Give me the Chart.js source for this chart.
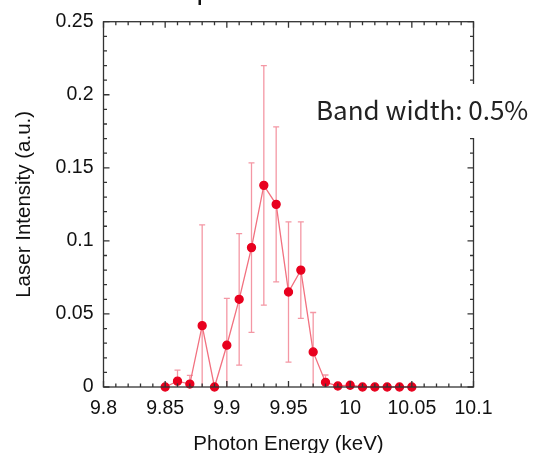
<!DOCTYPE html>
<html>
<head>
<meta charset="utf-8">
<script src="https://cdn.jsdelivr.net/npm/chart.js@4.4.0/dist/chart.umd.min.js"></script>
<style>
  html, body { margin: 0; padding: 0; background: #fff; }
  #wrap { width: 540px; height: 453px; position: relative; }
</style>
</head>
<body>
<div id="wrap"><canvas id="grafico"></canvas></div>
<script>
// ---------------- DADOS ----------------
const energia = [9.85, 9.86, 9.87, 9.88, 9.89, 9.90, 9.91, 9.92, 9.93, 9.94, 9.95,
                 9.96, 9.97, 9.98, 9.99, 10.00, 10.01, 10.02, 10.03, 10.04, 10.05];
const intensidade = [0, 0.004, 0.002, 0.042, 0, 0.0286, 0.060, 0.0954, 0.138, 0.125, 0.065,
                     0.080, 0.024, 0.0032, 0.0007, 0.0012, 0, 0, 0, 0, 0];
// barra de erro (+/-), null = sem barra
const erro = [null, 0.0076, 0.006, 0.069, null, 0.032, 0.045, 0.058, 0.082, 0.053, 0.048,
              0.033, 0.027, 0.005, null, null, null, null, null, null, null];

const xTicks = [9.8, 9.85, 9.9, 9.95, 10, 10.05, 10.1];
const yTicks = [0, 0.05, 0.1, 0.15, 0.2, 0.25];
const anotacao = "Band width: 0.5%";

const fonte = "'Liberation Sans', Arial, Helvetica, sans-serif";

// ---------------- PLUGINS ----------------
// barras de erro
const barrasErro = {
  id: "barrasErro",
  beforeDatasetsDraw(chart) {
    const { ctx, chartArea, scales: { x, y } } = chart;
    ctx.save();
    ctx.beginPath();
    ctx.rect(chartArea.left, chartArea.top, chartArea.right - chartArea.left, chartArea.bottom - chartArea.top);
    ctx.clip();
    ctx.strokeStyle = "#f497a4";
    ctx.lineWidth = 1.3;
    energia.forEach((e, i) => {
      if (erro[i] == null) return;
      const px = x.getPixelForValue(e);
      const topo = y.getPixelForValue(intensidade[i] + erro[i]);
      const base = y.getPixelForValue(intensidade[i] - erro[i]);
      ctx.beginPath();
      ctx.moveTo(px, topo); ctx.lineTo(px, base);
      ctx.moveTo(px - 3, topo); ctx.lineTo(px + 3, topo);
      ctx.moveTo(px - 3, base); ctx.lineTo(px + 3, base);
      ctx.stroke();
    });
    ctx.restore();
  }
};

// caixa com ticks para dentro
const caixa = {
  id: "caixa",
  afterDraw(chart) {
    const { ctx, chartArea: a, scales: { x, y } } = chart;
    ctx.save();
    ctx.strokeStyle = "#333";
    ctx.lineWidth = 1.3;
    ctx.strokeRect(a.left, a.top, a.right - a.left, a.bottom - a.top);
    ctx.beginPath();
    for (let k = 0; k <= 30; k++) {
      const px = x.getPixelForValue(9.8 + k * 0.01);
      const len = k % 5 === 0 ? 6 : 3.5;
      ctx.moveTo(px, a.bottom); ctx.lineTo(px, a.bottom - len);
      ctx.moveTo(px, a.top); ctx.lineTo(px, a.top + len);
    }
    for (let k = 0; k <= 25; k++) {
      const py = y.getPixelForValue(k * 0.01);
      const len = k % 5 === 0 ? 6 : 3.5;
      ctx.moveTo(a.left, py); ctx.lineTo(a.left + len, py);
      ctx.moveTo(a.right, py); ctx.lineTo(a.right - len, py);
    }
    ctx.stroke();

    // pedaço do título cortado no topo
    ctx.fillStyle = "#111";
    ctx.fillRect(198.5, 0, 2.5, 5);

    // anotação com fundo branco
    ctx.fillStyle = "#fff";
    ctx.fillRect(308, 84, 232, 54);
    ctx.fillStyle = "#222";
    ctx.font = "26px 'Noto Sans CJK JP', 'Noto Sans', sans-serif";
    ctx.textBaseline = "alphabetic";
    ctx.fillText(anotacao, 316, 120);
    ctx.restore();
  }
};

// ---------------- GRAFICO ----------------
const ctxGrafico = document.getElementById("grafico").getContext("2d");
new Chart(ctxGrafico, {
  type: "line",
  data: {
    datasets: [{
      data: energia.map((e, i) => ({ x: e, y: intensidade[i] })),
      borderColor: "#f2707f",
      borderWidth: 1.3,
      backgroundColor: "#e8001e",
      pointBackgroundColor: "#e8001e",
      pointBorderColor: "#e8001e",
      pointRadius: 4,
      tension: 0
    }]
  },
  options: {
    responsive: true,
    maintainAspectRatio: false,
    animation: false,
    clip: false,
    layout: { padding: { top: 19.5, right: 66.5, bottom: 0, left: 0 } },
    plugins: { legend: { display: false }, tooltip: { enabled: false } },
    scales: {
      x: {
        type: "linear",
        min: 9.8, max: 10.1,
        afterBuildTicks: s => { s.ticks = xTicks.map(v => ({ value: v })); },
        afterFit: s => { s.height = 66; },
        grid: { display: false, drawTicks: false },
        border: { display: false },
        ticks: {
          color: "#111", padding: 10,
          font: { family: fonte, size: 19.5 },
          callback: v => String(parseFloat(v.toFixed(2)))
        },
        title: {
          display: true, text: "Photon Energy (keV)", color: "#111",
          font: { family: fonte, size: 20.5 }, padding: { top: 0, bottom: -4 }
        }
      },
      y: {
        min: 0, max: 0.25,
        afterBuildTicks: s => { s.ticks = yTicks.map(v => ({ value: v })); },
        afterFit: s => { s.width = 103.5; },
        grid: { display: false, drawTicks: false },
        border: { display: false },
        ticks: {
          color: "#111", padding: 10,
          font: { family: fonte, size: 19.5 },
          callback: v => String(parseFloat(v.toFixed(2)))
        },
        title: {
          display: true, text: "Laser Intensity (a.u.)", color: "#111",
          font: { family: fonte, size: 20.5 }, padding: { top: 12, bottom: 0 }
        }
      }
    }
  },
  plugins: [barrasErro, caixa]
});
</script>
</body>
</html>
